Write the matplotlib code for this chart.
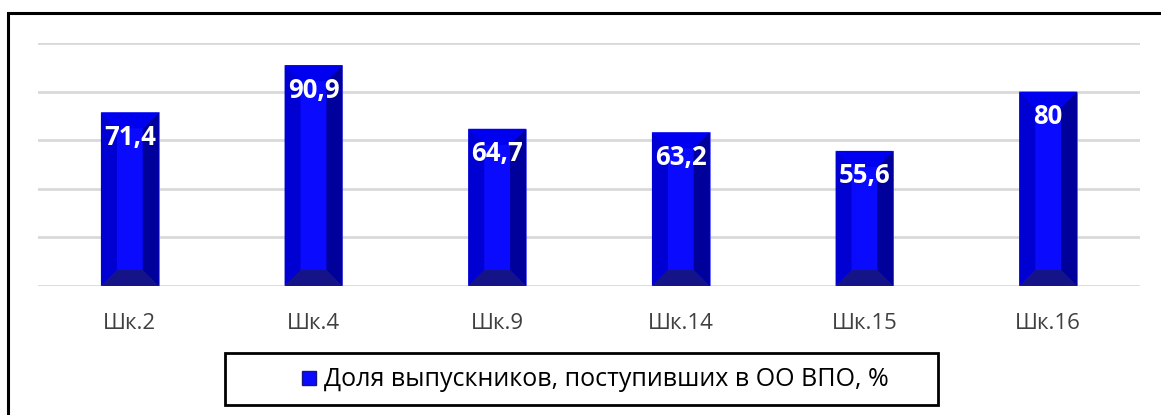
import matplotlib
matplotlib.use("Agg")
import matplotlib.pyplot as plt
from matplotlib.patches import Polygon, Rectangle
from matplotlib.lines import Line2D

schools = ["Шк.2", "Шк.4", "Шк.9", "Шк.14", "Шк.15", "Шк.16"]
share = [71.4, 90.9, 64.7, 63.2, 55.6, 80]
value_labels = ["71,4", "90,9", "64,7", "63,2", "55,6", "80"]
legend_label = "Доля выпускников, поступивших в ОО ВПО, %"

W, H, DPI = 1161, 415, 100
plt.rcParams["font.family"] = ["Open Sans", "DejaVu Sans"]

fig = plt.figure(figsize=(W / DPI, H / DPI), dpi=DPI)

def px_box(x0, y0, x1, y1):
    # pixel box (top-left origin) -> figure fraction rect
    return [x0 / W, 1 - y1 / H, (x1 - x0) / W, (y1 - y0) / H]

# outer chart frame (right and bottom edges run off the picture)
fig.patches.append(Rectangle((8 / W, -0.1), 1.2, 1 - 13 / H + 0.1,
                             transform=fig.transFigure, fill=False,
                             edgecolor="black", linewidth=2.2))

ax = fig.add_axes(px_box(38, 43, 1140, 286))
ax.set_xlim(-0.5, len(schools) - 0.5)
ax.set_ylim(0, 100)
for s in ax.spines.values():
    s.set_visible(False)
ax.set_yticks([0, 20, 40, 60, 80, 100])
ax.yaxis.grid(True, color="#d9d9d9", linewidth=2)
ax.set_axisbelow(True)
ax.tick_params(axis="y", left=False, labelleft=False)
ax.tick_params(axis="x", bottom=False, pad=16, labelsize=16, labelcolor="#404040")
ax.set_xticks(range(len(schools)))
ax.set_xticklabels(schools)

bar_w = 0.315
bars = ax.bar(range(len(schools)), share, width=bar_w, color="#0a0aff",
              edgecolor="#6a6aff", linewidth=0.6, zorder=2)

# bevel sizes in data units (about 16 px)
px_x = (1140 - 38) / len(schools)
px_y = (286 - 43) / 100
bx = 16 / px_x
by = 16 / px_y
for b in bars:
    x0, x1 = b.get_x(), b.get_x() + b.get_width()
    y0, y1 = 0, b.get_height()
    ix0, ix1, iy0, iy1 = x0 + bx, x1 - bx, y0 + by, y1 - by
    faces = [
        ([(x0, y1), (x1, y1), (ix1, iy1), (ix0, iy1)], "#0000f0"),  # top
        ([(x0, y0), (x0, y1), (ix0, iy1), (ix0, iy0)], "#0000d2"),  # left
        ([(x1, y0), (x1, y1), (ix1, iy1), (ix1, iy0)], "#00009a"),  # right
        ([(x0, y0), (x1, y0), (ix1, iy0), (ix0, iy0)], "#141488"),  # bottom
    ]
    for pts, c in faces:
        ax.add_patch(Polygon(pts, closed=True, facecolor=c, edgecolor="none", zorder=3))

for i, (v, lab) in enumerate(zip(share, value_labels)):
    ax.annotate(lab, (i, v), xytext=(0, -25), textcoords="offset pixels",
                ha="center", va="center", color="white", fontsize=18.5,
                fontweight="bold", zorder=5)

# legend box
fig.patches.append(Rectangle((225 / W, 1 - 405 / H), (938 - 225) / W, (405 - 353) / H,
                             transform=fig.transFigure, fill=False,
                             edgecolor="black", linewidth=2))
handle = Line2D([], [], marker="s", linestyle="none", markersize=10,
                markerfacecolor="#0a0aff", markeredgecolor="#141488")
fig.legend([handle], [legend_label], loc="center",
           bbox_to_anchor=(594 / W, 1 - 380 / H), frameon=False,
           fontsize=18, handletextpad=0.2, handlelength=0.8)

fig.savefig("out.png", dpi=DPI)
